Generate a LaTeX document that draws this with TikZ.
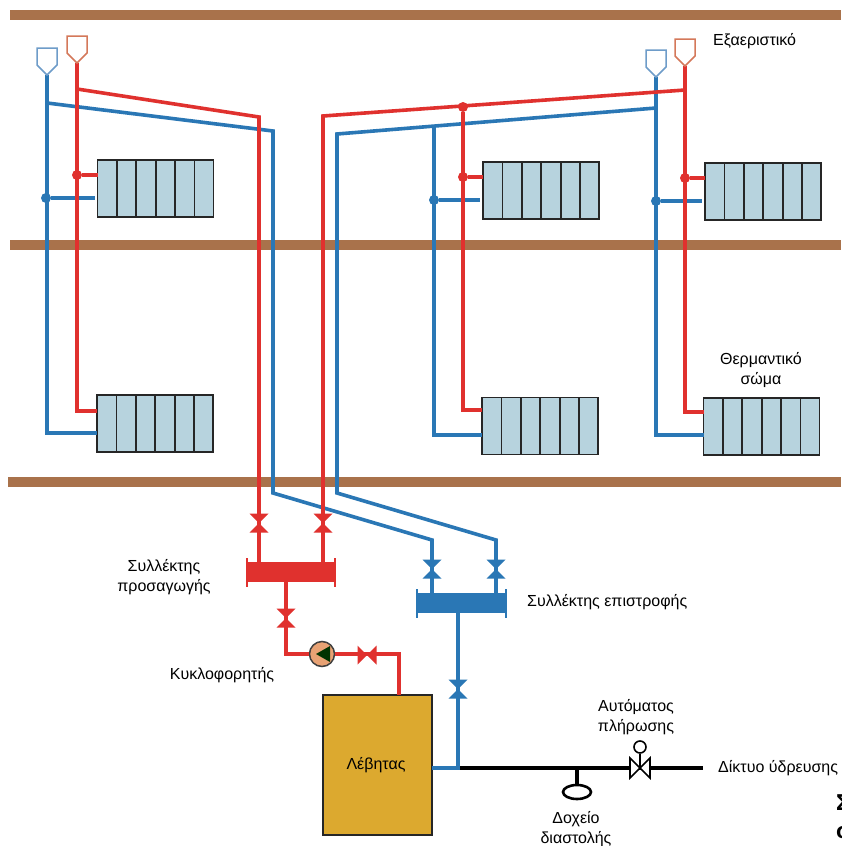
\documentclass[tikz,border=0pt]{standalone}
\usepackage{fontspec}
\setmainfont{Liberation Sans}
\usetikzlibrary{calc, shapes.geometric}
\definecolor{pipered}{HTML}{E0312E}
\definecolor{pipeblue}{HTML}{2A77B5}
\definecolor{beam}{HTML}{A9724B}
\definecolor{ventred}{HTML}{D4785A}
\definecolor{ventblue}{HTML}{6E9CC9}
\definecolor{radfill}{HTML}{B7D3DE}
\definecolor{boilerfill}{HTML}{DCA92F}
\definecolor{pumpfill}{HTML}{E8A274}
\begin{document}
\begin{tikzpicture}[
    x=1pt, y=-1pt,
    font=\fontsize{16}{20}\selectfont,
    hot/.style={draw=pipered, line width=3.6pt},
    cold/.style={draw=pipeblue, line width=3.6pt},
    feed/.style={draw=black, line width=3.6pt},
    beamline/.style={fill=beam},
    lbl/.style={align=center, inner sep=0pt},
    dot/.style={circle, inner sep=0pt, minimum size=10pt},
    radiator/.style={
        draw=black!85, line width=1.8pt, fill=radfill,
        minimum width=116pt, minimum height=57pt, inner sep=0pt, outer sep=0pt,
        path picture={
            \foreach \k in {1,...,5}
                \draw[black!85, line width=1.8pt]
                    ([xshift=\k*19.4pt]path picture bounding box.north west)
                    -- ([xshift=\k*19.4pt]path picture bounding box.south west);
        },
    },
    header/.style={minimum width=#1, minimum height=20pt, inner sep=0pt, outer sep=0pt},
    valve/.pic={\fill[#1] (-9.5,-9.5) -- (9.5,-9.5) -- (-9.5,9.5) -- (9.5,9.5) -- cycle;},
    vent/.pic={\draw[#1, line width=1.5pt, fill=white] (-10,-27) -- (10,-27) -- (10,-10) -- (0,0) -- (-10,-10) -- cycle;},
]
\path[use as bounding box, fill=white] (0,0) rectangle (841,846);

% --- Floors -------------------------------------------------
\fill[beamline] (10,10) rectangle (841,20);
\fill[beamline] (10,240) rectangle (841,250);
\fill[beamline] (8,477) rectangle (841,487);

% --- Radiators ----------------------------------------------
\node[radiator] (radTL) at (155.5,188.5) {};
\node[radiator] (radBL) at (155,423.5) {};
\node[radiator] (radTM) at (541,190.5) {};
\node[radiator] (radBM) at (540,426) {};
\node[radiator] (radTR) at (763,191.5) {};
\node[radiator] (radBR) at (761.5,426.5) {};

% --- Collectors and boiler ----------------------------------
\node[header=88pt, fill=pipered] (hdrHot) at (291,572) {};
\node[header=89pt, fill=pipeblue] (hdrCold) at (461.5,603) {};
\node[draw=black!85, line width=2.4pt, fill=boilerfill, minimum width=109pt,
      minimum height=140pt, inner sep=0pt, outer sep=0pt] (boiler) at (377.5,765) {};
\node[lbl] (boilerText) at (376,765.5) {Λέβητας};

% --- Junction points ----------------------------------------
\coordinate (ventBlueL) at (47,75);
\coordinate (ventRedL) at (77,63);
\coordinate (ventBlueR) at (656,77);
\coordinate (ventRedR) at (685,66);
\coordinate (coldL) at (47,103);
\coordinate (coldLb) at (273,131);
\coordinate (coldLc) at (273,493);
\coordinate (coldLd) at (432,540);
\coordinate (hotL) at (77,89);
\coordinate (hotLb) at (259,117);
\coordinate (coldR) at (656,108);
\coordinate (coldRb) at (337,134);
\coordinate (coldRc) at (337,493);
\coordinate (coldRd) at (496,540);
\coordinate (hotR) at (685,90);
\coordinate (hotRb) at (323,116);
\coordinate (coldM) at (434,127);
\node[dot, fill=pipered] (hotM) at (463,107) {};
\node[dot, fill=pipeblue] (dotBlueL) at (46,198) {};
\node[dot, fill=pipered] (dotRedL) at (77,175) {};
\node[dot, fill=pipeblue] (dotBlueM) at (434,200) {};
\node[dot, fill=pipered] (dotRedM) at (463,177) {};
\node[dot, fill=pipeblue] (dotBlueR) at (656,201) {};
\node[dot, fill=pipered] (dotRedR) at (685,178) {};

% --- Return pipes -------------------------------------------
\draw[cold] (ventBlueL) -- (47,433) -- (radBL.west |- 0,433);
\draw[cold] (coldL) -- (coldLb) -- (coldLc) -- (coldLd) -- (coldLd |- hdrCold.north);
\draw[cold] (coldR) -- (coldRb) -- (coldRc) -- (coldRd) -- (coldRd |- hdrCold.north);
\draw[cold] (coldM) -- (434,435) -- (radBM.west |- 0,435);
\draw[cold] (ventBlueR) -- (656,435) -- (radBR.west |- 0,435);
\draw[cold, shorten >=3pt] (dotBlueL) -- (dotBlueL -| radTL.west);
\draw[cold, shorten >=3pt] (dotBlueM) -- (dotBlueM -| radTM.west);
\draw[cold, shorten >=3pt] (dotBlueR) -- (dotBlueR -| radTR.west);
\draw[cold] (458,613) -- (458,768) -- (boiler.east |- 0,768);

% --- Flow pipes ---------------------------------------------
\draw[hot] (ventRedL) -- (77,411) -- (radBL.west |- 0,411);
\draw[hot] (hotL) -- (hotLb) -- (hotLb |- hdrHot.north);
\draw[hot] (hotR) -- (hotRb) -- (hotRb |- hdrHot.north);
\draw[hot] (hotM) -- (463,410) -- (radBM.west |- 0,410);
\draw[hot] (ventRedR) -- (685,412) -- (radBR.west |- 0,412);
\draw[hot] (dotRedL) -- (dotRedL -| radTL.west);
\draw[hot] (dotRedM) -- (dotRedM -| radTM.west);
\draw[hot] (dotRedR) -- (dotRedR -| radTR.west);

% --- Pump loop ----------------------------------------------
\node[circle, draw=black!75, line width=1.5pt, fill=pumpfill, minimum size=25pt, inner sep=0pt] (pump) at (322,654) {};
\draw[hot] (286,582) -- (286,654) -- (pump);
\draw[hot] (pump) -- (399,654) -- (399,0 |- boiler.north);
\fill[black!80!green] ($(pump)+(-6,0)$) -- ($(pump)+(8,-8)$) -- ($(pump)+(8,8)$) -- cycle;

% --- Collector flanges --------------------------------------
\draw[pipered, line width=2pt] ($(hdrHot.north west)+(0,-4)$) -- ($(hdrHot.south west)+(0,5)$);
\draw[pipered, line width=2pt] ($(hdrHot.north east)+(0,-4)$) -- ($(hdrHot.south east)+(0,5)$);
\draw[pipeblue, line width=2pt] ($(hdrCold.north west)+(0,-4)$) -- ($(hdrCold.south west)+(0,5)$);
\draw[pipeblue, line width=2pt] ($(hdrCold.north east)+(0,-4)$) -- ($(hdrCold.south east)+(0,5)$);

% --- Valves -------------------------------------------------
\pic at (259,523) {valve=pipered};
\pic at (323,523) {valve=pipered};
\pic at (286,618) {valve=pipered};
\pic[rotate=90] at (367,655) {valve=pipered};
\pic at (432,569) {valve=pipeblue};
\pic at (496,569) {valve=pipeblue};
\pic at (458,689) {valve=pipeblue};

% --- Air vents ----------------------------------------------
\pic at (ventBlueL) {vent=ventblue};
\pic at (ventRedL) {vent=ventred};
\pic at (ventBlueR) {vent=ventblue};
\pic at (ventRedR) {vent=ventred};

% --- Water supply -------------------------------------------
\coordinate (feedA) at (460,768);
\coordinate (feedB) at (703,768);
\coordinate (tankTee) at (577,768);
\node[ellipse, draw=black, line width=2.6pt, minimum width=28pt, minimum height=14pt, inner sep=0pt] (tank) at (577,792) {};
\draw[feed] (feedA) -- (feedB);
\draw[feed] (tankTee) -- (tank);
\node[circle, draw=black, line width=1.6pt, fill=white, minimum size=12pt, inner sep=0pt] (float) at (640,747) {};
\coordinate (fillValve) at (640,768);
\draw[black, line width=1.6pt, fill=white] (630,758) -- (650,778) -- (650,758) -- (630,778) -- cycle;
\draw[black, line width=1.6pt] (float) -- (fillValve);

% --- Labels -------------------------------------------------
\node[lbl, anchor=west] (ventText) at (713,41) {Εξαεριστικό};
\node[lbl] (radText) at (761,370) {Θερμαντικό\\σώμα};
\node[lbl] (hotText) at (164,577) {Συλλέκτης\\προσαγωγής};
\node[lbl, anchor=west] (coldText) at (527,602) {Συλλέκτης επιστροφής};
\node[lbl] (pumpText) at (222,675.5) {Κυκλοφορητής};
\node[lbl] (fillText) at (636,717.5) {Αυτόματος\\πλήρωσης};
\node[lbl] (tankText) at (576,829) {Δοχείο\\διαστολής};
\node[lbl, anchor=west] (mainsText) at (718,768) {Δίκτυο ύδρευσης};
\node[lbl, anchor=west, font=\fontsize{23}{23}\selectfont\bfseries] (capA) at (836,803) {Σ};
\node[lbl, anchor=west, font=\fontsize{23}{23}\selectfont\bfseries] (capB) at (836,833) {σ};
\end{tikzpicture}
\end{document}
